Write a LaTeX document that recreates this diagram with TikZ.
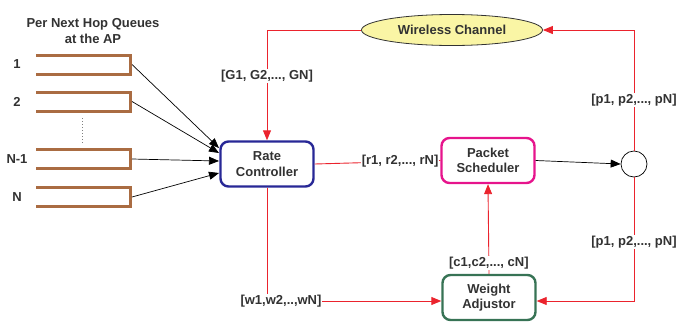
\documentclass[tikz,border=0pt]{standalone}
\usepackage{fontspec}
\setmainfont{Liberation Sans}
\usetikzlibrary{arrows.meta,shapes.geometric}

\definecolor{txtgray}{RGB}{50,50,50}
\definecolor{qbrown}{RGB}{170,108,66}
\definecolor{rcblue}{RGB}{40,40,150}
\definecolor{psmagenta}{RGB}{230,20,140}
\definecolor{wagreen}{RGB}{55,115,85}
\definecolor{sigred}{RGB}{235,35,45}
\definecolor{chanyellow}{RGB}{250,245,165}

\tikzset{
  txt/.style={font=\bfseries\fontsize{13}{15.5}\selectfont,text=txtgray},
  box/.style={txt,draw,rounded corners=8pt,line width=2.4pt,minimum width=93pt,minimum height=45pt,align=center},
  lab/.style={txt,fill=white,inner sep=1pt},
  queue/.style={draw=qbrown,line width=3pt},
  redline/.style={draw=sigred,line width=0.9pt},
  tip/.style={-{Triangle[length=10pt,width=8pt]}}
}

\begin{document}
\begin{tikzpicture}[x=1pt,y=-1pt]
\useasboundingbox (0,0) rectangle (678,322);

\node[txt,align=center] (title) at (93,31) {Per Next Hop Queues\\at the AP};

\node[box,draw=rcblue] (rc) at (267,164) {Rate\\Controller};
\node[box,draw=psmagenta] (ps) at (488,160.5) {Packet\\Scheduler};
\node[box,draw=wagreen] (wa) at (489,297.5) {Weight\\Adjustor};
\node[txt,ellipse,draw=txtgray,line width=0.8pt,fill=chanyellow,minimum width=181pt,minimum height=31pt] (wc) at (452,30) {Wireless Channel};
\node[circle,draw,line width=0.7pt,minimum size=26pt,inner sep=0pt] (circ) at (634,164) {};

\foreach \i/\y/\t/\ty in {1/64.5/1/148, 2/101.5/2/153, 3/159/N-1/161, 4/197/N/173} {
  \draw[queue] (36,\y-9.5) -| (130.5,\y+9.5) -- (36,\y+9.5);
  \node[txt] (n\i) at (17,\y) {\t};
  \coordinate (q\i) at (132,\y);
  \coordinate (t\i) at (219,\ty);
  \draw[tip,line width=0.7pt] (q\i) -- (t\i);
}
\draw[gray,dotted,line width=1pt] (82,118) -- (82,144);

\draw[redline,tip] (wc.west) -| node[lab,pos=0.71] {[G1, G2,..., GN]} (rc.north);
\draw[redline,tip] (circ.north) |- node[lab,pos=0.21] {[p1, p2,..., pN]} (wc.east);
\draw[redline] (rc.east) -- node[lab,pos=0.68] {[r1, r2,..., rN]} (ps.west);
\draw[tip,line width=0.7pt] (ps.east) -- (circ.west);
\draw[redline,tip] (rc.south) |- node[lab,pos=0.5,xshift=14pt] {[w1,w2,..,wN]} ([yshift=-3.5pt]wa.west);
\draw[redline,tip] (wa.north) -- node[lab,pos=0.12] {[c1,c2,..., cN]} (ps.south);
\draw[redline,tip] (circ.south) |- node[lab,pos=0.26] {[p1, p2,..., pN]} ([yshift=-3.5pt]wa.east);
\end{tikzpicture}
\end{document}
